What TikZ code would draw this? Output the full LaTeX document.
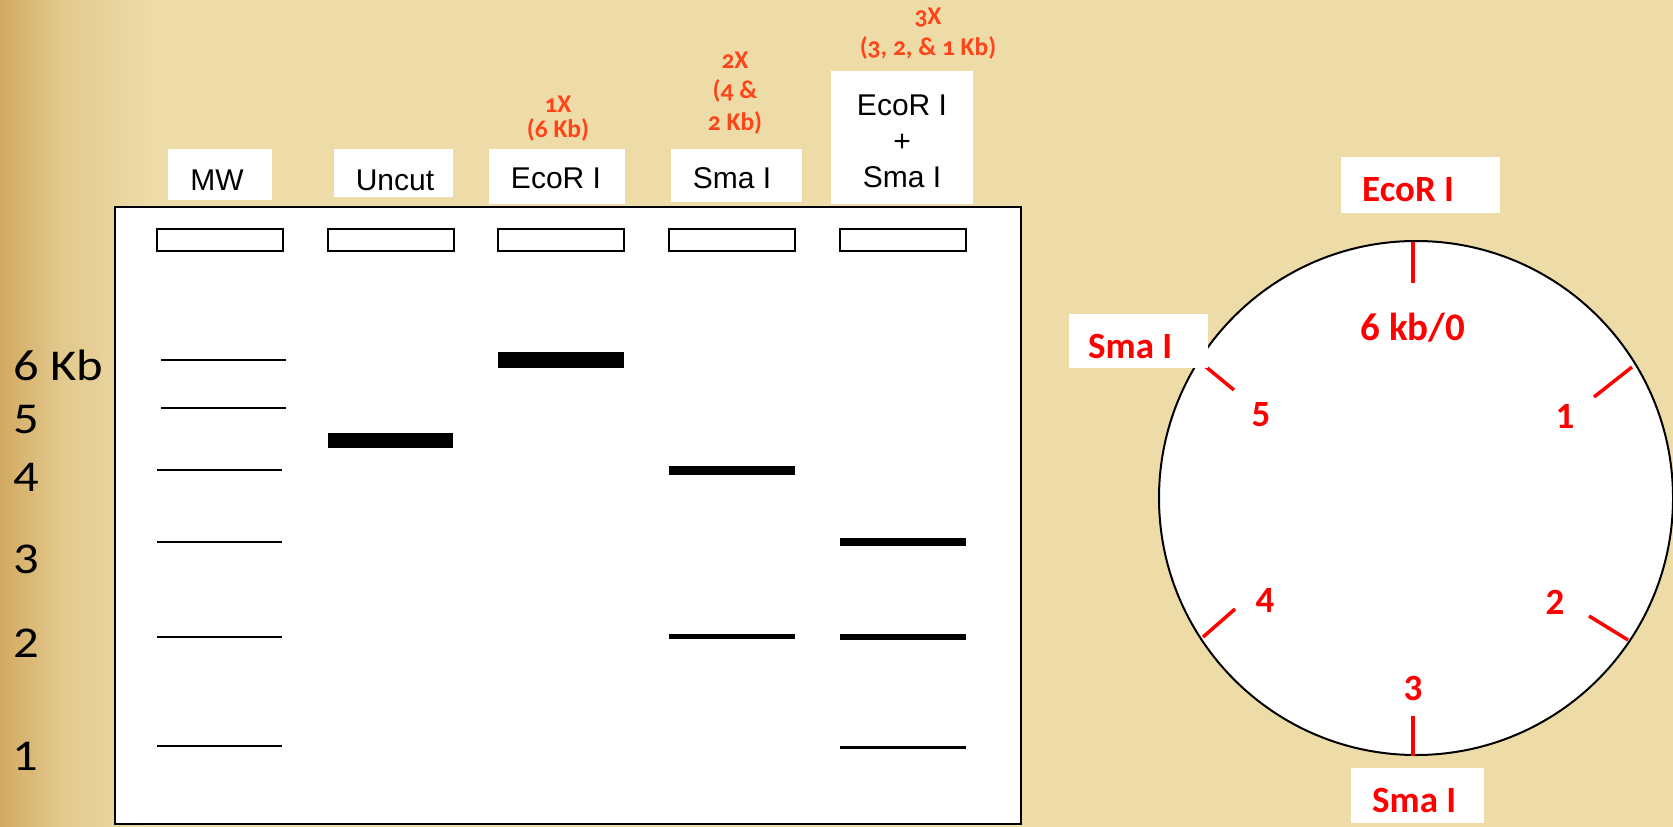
\documentclass[tikz,border=0pt]{standalone}
\usepackage{fontspec}
\setmainfont{Liberation Sans}
\newfontfamily\calfont{Carlito}
\newfontfamily\kbfont[FakeStretch=1.15]{Carlito}
\newfontfamily\oldfont[Numbers=OldStyle]{Carlito}
\definecolor{bg}{HTML}{EDDCA8}
\definecolor{bgdark}{HTML}{D2AA62}
\definecolor{bgmid}{HTML}{E2C88C}
\definecolor{redm}{HTML}{FF0000}
\definecolor{orng}{HTML}{FF4419}
\begin{document}
\begin{tikzpicture}[x=1pt,y=-1pt,
  wbox/.style={fill=white, draw=none, inner sep=0pt},
  lab/.style={inner sep=0pt, font=\fontsize{30}{36}\selectfont},
  orlab/.style={inner sep=0pt, text=orng, font=\oldfont\bfseries\fontsize{25.5}{30}\selectfont},
  redlab/.style={inner sep=0pt, text=redm, font=\calfont\bfseries\fontsize{37}{44}\selectfont},
  kblab/.style={inner sep=0pt, anchor=base west, font=\kbfont\fontsize{44}{50}\selectfont},
  well/.style={draw=black, line width=1.6pt, fill=white},
  band/.style={draw=black, line width=#1},
  tick/.style={draw=redm, line width=3.5pt}
]
\useasboundingbox (0,0) rectangle (1673,827);
\fill[bg] (0,0) rectangle (1673,827);
\shade[left color=bgdark, right color=bgmid] (0,0) rectangle (60,827);
\shade[left color=bgmid, right color=bg] (60,0) rectangle (150,827);

% lane label boxes
\node[wbox, minimum width=104, minimum height=51] (mwbox) at (220,174.5) {};
\node[wbox, minimum width=119, minimum height=48] (uncutbox) at (393.5,173) {};
\node[wbox, minimum width=136, minimum height=55] (ecobox) at (557,176.5) {};
\node[wbox, minimum width=131, minimum height=53] (smabox) at (736.5,175.5) {};
\node[wbox, minimum width=142, minimum height=133] (combox) at (902,137.5) {};

\node[lab, anchor=base] (mwt) at (217,190) {MW};
\node[lab, anchor=base] (uncutt) at (395,190) {Uncut};
\node[lab, anchor=base] (ecot) at (556,188) {EcoR I};
\node[lab, anchor=base] (smat) at (732,188) {Sma I};
\node[lab, align=center] (combt) at (902,141) {EcoR I\\+\\Sma I};

% orange annotations
\node[orlab] (o1a) at (558,104.6) {1X};
\node[orlab] (o1b) at (558,130) {(6 Kb)};
\node[orlab] (o2a) at (735,60) {2X};
\node[orlab] (o2b) at (735,91) {(4 \&};
\node[orlab] (o2c) at (735,123) {2 Kb)};
\node[orlab] (o3a) at (928,18) {3X};
\node[orlab] (o3b) at (928,48) {(3, 2, \& 1 Kb)};

% gel
\draw[line width=2pt, fill=white] (115,207) rectangle (1021,824);
\foreach \x in {157,328,498,669,840}
  \draw[well] (\x,229) rectangle (\x+126,251);

% MW ladder
\draw[band=2.5pt] (161,360) -- (286,360);
\draw[band=2.5pt] (161,408) -- (286,408);
\draw[band=2.5pt] (157,470) -- (282,470);
\draw[band=2.5pt] (157,542) -- (282,542);
\draw[band=2.5pt] (157,637) -- (282,637);
\draw[band=2.5pt] (157,746) -- (282,746);
% uncut
\draw[band=15pt] (328,440.5) -- (453,440.5);
% EcoR I
\draw[band=16pt] (498,360) -- (624,360);
% Sma I
\draw[band=9pt] (669,470) -- (795,470);
\draw[band=5pt] (669,636.5) -- (795,636.5);
% EcoR I + Sma I
\draw[band=8pt] (840,542) -- (966,542);
\draw[band=6pt] (840,637) -- (966,637);
\draw[band=3pt] (840,747) -- (966,747);

% size labels
\node[kblab] (k6) at (13,380) {6 Kb};
\node[kblab] (k5) at (13,433) {5};
\node[kblab] (k4) at (13,491) {4};
\node[kblab] (k3) at (13,573) {3};
\node[kblab] (k2) at (13,657) {2};
\node[kblab] (k1) at (12,770) {1};

% plasmid map
\draw[line width=2pt, fill=white] (1416,498) circle[radius=257];
\draw[tick] (1413,242) -- (1413,283);
\draw[tick] (1413,716) -- (1413,756);
\draw[tick] (1200,362) -- (1234,390);
\draw[tick] (1632,367) -- (1594,397);
\draw[tick] (1203,637) -- (1235,609);
\draw[tick] (1628,640) -- (1589,616);

\node[wbox, minimum width=159, minimum height=56] (ecomapbox) at (1420.5,185) {};
\node[redlab, anchor=base west] (ecomap) at (1362,201) {EcoR I};
\node[wbox, minimum width=139, minimum height=54] (smamapbox1) at (1138.5,341) {};
\node[redlab, anchor=base west] (smamap1) at (1088,358) {Sma I};
\node[wbox, minimum width=133, minimum height=55] (smamapbox2) at (1417.5,795.5) {};
\node[redlab, anchor=base west] (smamap2) at (1372,812) {Sma I};

\node[redlab, anchor=base, font=\calfont\bfseries\fontsize{39}{46}\selectfont] (p0) at (1413,340) {6 kb/0};
\node[redlab] (p5) at (1261,415) {5};
\node[redlab] (p1) at (1565,416) {1};
\node[redlab] (p4) at (1265,600) {4};
\node[redlab] (p2) at (1555,602) {2};
\node[redlab] (p3) at (1413,688) {3};
\end{tikzpicture}
\end{document}
